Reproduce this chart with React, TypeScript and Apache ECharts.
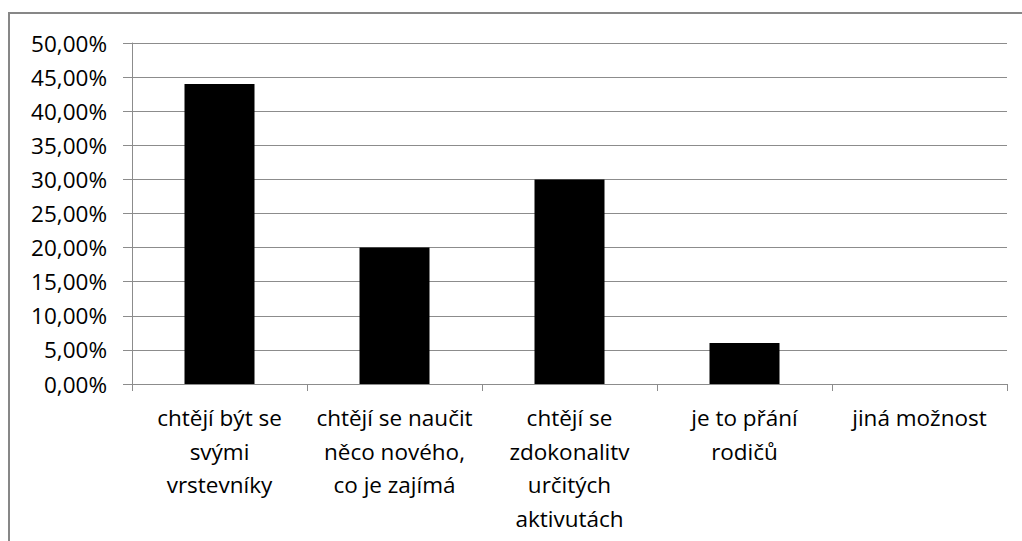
import React, { useEffect, useRef } from "react";
import * as echarts from "echarts";

const categories = [
  "chtějí být se\nsvými\nvrstevníky",
  "chtějí se naučit\nněco nového,\nco je zajímá",
  "chtějí se\nzdokonalitv\nurčitých\naktivutách",
  "je to přání\nrodičů",
  "jiná možnost",
];
const values = [0.44, 0.2, 0.3, 0.06, 0];

const FONT = "Open Sans";

export default function App() {
  const ref = useRef<HTMLDivElement>(null);
  useEffect(() => {
    document.body.style.margin = "0";
    const chart = echarts.init(ref.current!, null, { renderer: "svg" });
    chart.setOption({
      animation: false,
      backgroundColor: "#ffffff",
      textStyle: { fontFamily: FONT },
      graphic: [
        {
          type: "rect",
          shape: { x: 9, y: 13, width: 1200, height: 700 },
          style: { fill: "none", stroke: "#878787", lineWidth: 2 },
          silent: true,
        },
      ],
      grid: { left: 132, top: 43, right: 15, bottom: 157 },
      xAxis: {
        type: "category",
        data: categories,
        axisLine: { lineStyle: { color: "#8c8c8c", width: 1 } },
        axisTick: { show: true, length: 7, alignWithLabel: false, lineStyle: { color: "#8c8c8c" } },
        axisLabel: {
          interval: 0,
          color: "#000",
          fontFamily: FONT,
          fontSize: 22.5,
          lineHeight: 33.5,
          margin: 17,
        },
      },
      yAxis: {
        type: "value",
        min: 0,
        max: 0.5,
        interval: 0.05,
        axisLine: { show: true, lineStyle: { color: "#8c8c8c", width: 1 } },
        axisTick: { show: true, length: 9, lineStyle: { color: "#8c8c8c" } },
        splitLine: { show: true, lineStyle: { color: "#8c8c8c", width: 1 } },
        axisLabel: {
          color: "#000",
          fontFamily: FONT,
          fontSize: 22.5,
          margin: 25,
          formatter: (v: number) => (v * 100).toFixed(2).replace(".", ",") + "%",
        },
      },
      series: [
        {
          type: "bar",
          data: values,
          barWidth: 70,
          itemStyle: { color: "#000000" },
        },
      ],
    });
    return () => chart.dispose();
  }, []);
  return <div ref={ref} style={{ width: 1022, height: 541 }} />;
}
